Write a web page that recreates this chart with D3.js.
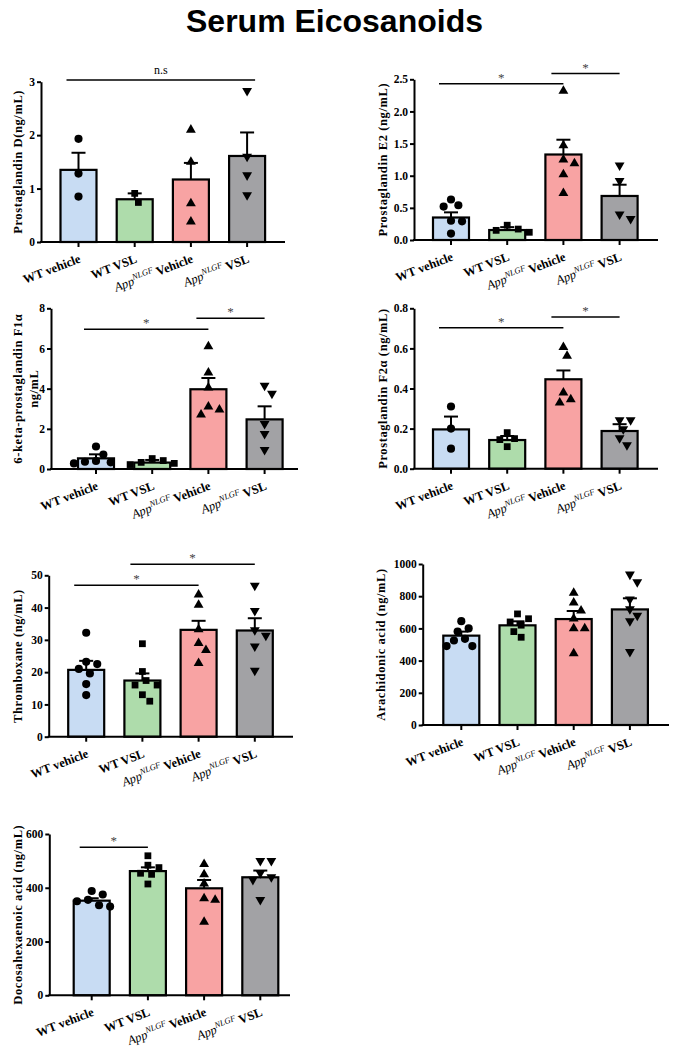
<!DOCTYPE html>
<html>
<head>
<meta charset="utf-8">
<script src="https://cdn.jsdelivr.net/npm/d3@7"></script>
<style>
  body { margin: 0; background: #fff; }
  svg { display: block; }
</style>
</head>
<body>
<svg id="chart" width="677" height="1050"></svg>
<script>
// groupy (osa x)
const groups = ["WT vehicle", "WT VSL", "App^NLGF Vehicle", "App^NLGF VSL"];

// Prostaglandin D
const pgdMean = [1.35, 0.80, 1.17, 1.61];
const pgdSem = [0.32, 0.11, 0.31, 0.44];
const pgdPoints = [[1.93, 1.28, 0.85], [0.91, 0.74], [2.1, 1.5, 0.72, 0.38], [2.83, 1.6, 1.25, 0.88]];
const pgdSig = [[0, 3, "n.s", 3.03]];

// Prostaglandin E2
const pge2Mean = [0.35, 0.155, 1.33, 0.685];
const pge2Sem = [0.08, 0.045, 0.23, 0.175];
const pge2Points = [[0.63, 0.54, 0.52, 0.30, 0.29, 0.10], [0.23, 0.17, 0.15, 0.12], [2.32, 1.47, 1.25, 1.19, 1.02, 0.73], [1.16, 0.92, 0.40, 0.33]];
const pge2Sig = [[0, 2, "*", 2.43], [2, 3, "*", 2.59]];

// 6-keto-prostaglandin F1a
const ketoMean = [0.53, 0.32, 3.97, 2.47];
const ketoSem = [0.20, 0.13, 0.56, 0.65];
const ketoPoints = [[1.12, 0.72, 0.40, 0.36, 0.33, 0.28], [0.52, 0.42, 0.33, 0.28, 0.22], [6.1, 4.8, 4.05, 3.1, 2.95, 2.7], [4.15, 3.75, 2.25, 1.75, 0.95]];
const ketoSig = [[0, 2, "*", 6.96], [2, 3, "*", 7.5]];

// Prostaglandin F2a
const pgf2Mean = [0.196, 0.143, 0.446, 0.188];
const pgf2Sem = [0.064, 0.02, 0.044, 0.034];
const pgf2Points = [[0.31, 0.2, 0.1], [0.18, 0.15, 0.145, 0.11], [0.606, 0.562, 0.379, 0.346, 0.329], [0.243, 0.243, 0.198, 0.153, 0.118]];
const pgf2Sig = [[0, 2, "*", 0.703], [2, 3, "*", 0.757]];

// Thromboxane
const txMean = [20.7, 17.4, 33.1, 32.9];
const txSem = [2.8, 2.2, 2.8, 3.8];
const txPoints = [[32.2, 23.2, 22.5, 21, 19.6, 16.3, 12.9], [28.8, 20.2, 17.4, 16, 16, 13, 11], [44, 40.8, 33.2, 29, 26.8, 22.8], [46.8, 39, 33, 31.3, 28, 20.5]];
const txSig = [[0, 2, "*", 46.9], [1, 3, "*", 53.4]];

// Arachidonic acid
const aaMean = [555, 619, 658, 718];
const aaSem = [25, 25, 50, 69];
const aaPoints = [[645, 600, 580, 535, 525, 490, 490], [690, 660, 640, 620, 580, 545], [820, 760, 710, 660, 600, 600, 445], [935, 888, 780, 720, 680, 645, 455]];
const aaSig = [];

// Docosahexaenoic acid
const dhaMean = [352, 462, 398, 439];
const dhaSem = [9, 14, 31, 25];
const dhaPoints = [[388, 375, 355, 350, 335, 330], [519, 484, 475, 454, 450, 414], [488, 450, 415, 360, 355, 273], [500, 500, 455, 440, 430, 355]];
const dhaSig = [[0, 1, "*", 551]];

const panels = [
    {label: ["Prostaglandin D(ng/mL)"], mean: pgdMean, sem: pgdSem, points: pgdPoints, sig: pgdSig, max: 3, step: 1, fmt: "d"},
    {label: ["Prostaglandin E2 (ng/mL)"], mean: pge2Mean, sem: pge2Sem, points: pge2Points, sig: pge2Sig, max: 2.5, step: 0.5, fmt: ".1f"},
    {label: ["6-keta-prostaglandin F1\u03b1", "ng/mL"], mean: ketoMean, sem: ketoSem, points: ketoPoints, sig: ketoSig, max: 8, step: 2, fmt: "d"},
    {label: ["Prostaglandin F2\u03b1 (ng/mL)"], mean: pgf2Mean, sem: pgf2Sem, points: pgf2Points, sig: pgf2Sig, max: 0.8, step: 0.2, fmt: ".1f"},
    {label: ["Thromboxane (ng/mL)"], mean: txMean, sem: txSem, points: txPoints, sig: txSig, max: 50, step: 10, fmt: "d"},
    {label: ["Arachidonic acid (ng/mL)"], mean: aaMean, sem: aaSem, points: aaPoints, sig: aaSig, max: 1000, step: 200, fmt: "d"},
    {label: ["Docosahexaenoic acid (ng/mL)"], mean: dhaMean, sem: dhaSem, points: dhaPoints, sig: dhaSig, max: 600, step: 200, fmt: "d"}
];

// rozlozeni jednotlivych grafu v obrazku
const layout = [
    {x0: 41, x1: 285, yTop: 81.7, yBot: 242, off: 37.5, labelX: [17]},
    {x0: 414, x1: 658, yTop: 79.3, yBot: 240, off: 37, labelX: [382]},
    {x0: 51, x1: 298, yTop: 308.3, yBot: 469, off: 45, labelX: [17.5, 33.5]},
    {x0: 414, x1: 658, yTop: 308.3, yBot: 468.7, off: 37, labelX: [382]},
    {x0: 48.7, x1: 293, yTop: 575.3, yBot: 736.7, off: 37.5, labelX: [17]},
    {x0: 422.7, x1: 669, yTop: 564, yBot: 725, off: 38.6, labelX: [380]},
    {x0: 49.3, x1: 290, yTop: 834, yBot: 995.3, off: 42.4, labelX: [17]}
];

const fills = ["#c8dcf3", "#aedcab", "#f8a3a3", "#a2a2a5"];
const symbols = [d3.symbolCircle, d3.symbolSquare, d3.symbolTriangle, d3.symbolTriangle];
const symSize = [52, 46, 42, 42];
const serif = "'Liberation Serif', 'Times New Roman', serif";
const barW = 36;
const step = 56.2;

const svg = d3.select("#chart");

svg.append("text")
    .attr("x", 334.5)
    .attr("y", 32)
    .attr("text-anchor", "middle")
    .style("font", "bold 32px 'Liberation Sans', Arial, sans-serif")
    .text("Serum Eicosanoids");

// rozmisteni bodu vedle sebe aby se neprekryvaly
function dodge(vals, y, r) {
    const placed = [];
    const off = new Array(vals.length).fill(0);
    const order = vals.map((v, i) => i).sort((a, b) => vals[b] - vals[a]);
    for (const i of order) {
        const py = y(vals[i]);
        for (let k = 0; k < 20; k++) {
            const dx = k === 0 ? 0 : (k % 2 ? 1 : -1) * Math.ceil(k / 2) * r * 0.8;
            if (placed.every(q => Math.hypot(q.dx - dx, q.py - py) >= 2 * r)) {
                placed.push({dx, py});
                off[i] = dx;
                break;
            }
        }
    }
    return off;
}

function drawPanel(p, L) {
    const g = svg.append("g");
    const y = d3.scaleLinear().domain([0, p.max]).range([L.yBot, L.yTop]);
    const x = d3.scalePoint().domain(groups).range([L.x0 + L.off, L.x0 + L.off + 3 * step]);

    // sloupce
    g.selectAll("rect.bar")
        .data(p.mean)
        .join("rect")
        .attr("class", "bar")
        .attr("x", (d, i) => x(groups[i]) - barW / 2)
        .attr("y", d => y(d))
        .attr("width", barW)
        .attr("height", d => y(0) - y(d))
        .attr("fill", (d, i) => fills[i])
        .attr("stroke", "#000")
        .attr("stroke-width", 2.2);

    // chybove usecky (jen nahoru)
    const err = g.selectAll("g.err")
        .data(p.mean)
        .join("g")
        .attr("class", "err");
    err.append("line")
        .attr("x1", (d, i) => x(groups[i]))
        .attr("x2", (d, i) => x(groups[i]))
        .attr("y1", d => y(d))
        .attr("y2", (d, i) => y(d + p.sem[i]));
    err.append("line")
        .attr("x1", (d, i) => x(groups[i]) - 7)
        .attr("x2", (d, i) => x(groups[i]) + 7)
        .attr("y1", (d, i) => y(d + p.sem[i]))
        .attr("y2", (d, i) => y(d + p.sem[i]));
    err.selectAll("line").attr("stroke", "#000").attr("stroke-width", 2);

    // jednotlive body
    p.points.forEach((vals, gi) => {
        const off = dodge(vals, y, 4.6);
        g.selectAll(null)
            .data(vals)
            .join("path")
            .attr("d", d3.symbol(symbols[gi], symSize[gi]))
            .attr("transform", (d, i) => `translate(${x(groups[gi]) + off[i]},${y(d)})` + (gi === 3 ? " rotate(180)" : ""))
            .attr("fill", "#000");
    });

    // osa y
    const yAxis = d3.axisLeft(y)
        .tickValues(d3.range(0, p.max + p.step / 2, p.step))
        .tickFormat(d3.format(p.fmt))
        .tickSizeInner(4)
        .tickSizeOuter(0)
        .tickPadding(2);
    const ya = g.append("g")
        .attr("transform", `translate(${L.x0},0)`)
        .call(yAxis);
    ya.select(".domain").attr("stroke-width", 2);
    ya.selectAll(".tick line").attr("stroke-width", 2);
    ya.selectAll(".tick text")
        .style("font", `bold 11.5px ${serif}`)
        .attr("fill", "#000");

    // osa x
    g.append("line")
        .attr("x1", L.x0 - 1)
        .attr("x2", L.x1)
        .attr("y1", L.yBot)
        .attr("y2", L.yBot)
        .attr("stroke", "#000")
        .attr("stroke-width", 2);
    g.selectAll("line.xtick")
        .data(groups)
        .join("line")
        .attr("class", "xtick")
        .attr("x1", d => x(d))
        .attr("x2", d => x(d))
        .attr("y1", L.yBot)
        .attr("y2", L.yBot + 5)
        .attr("stroke", "#000")
        .attr("stroke-width", 2);

    // popisky skupin
    groups.forEach(name => {
        const t = g.append("text")
            .attr("transform", `translate(${x(name) + 3},${L.yBot + 20}) rotate(-21)`)
            .attr("text-anchor", "end")
            .style("font", `bold 12.5px ${serif}`);
        if (name.startsWith("App^")) {
            const [sup, rest] = name.slice(4).split(" ");
            t.append("tspan").style("font-style", "italic").style("font-weight", "normal").text("App");
            t.append("tspan").style("font-style", "italic").style("font-weight", "normal")
                .style("font-size", "8.5px").attr("dy", -5).text(sup);
            t.append("tspan").attr("dy", 5).text(" " + rest);
        } else {
            t.text(name);
        }
    });

    // popisek osy y
    const mid = (L.yTop + L.yBot) / 2;
    p.label.forEach((txt, li) => {
        g.append("text")
            .attr("transform", `translate(${L.labelX[li] + 4.5},${mid}) rotate(-90)`)
            .attr("text-anchor", "middle")
            .style("font", `bold 12.5px ${serif}`)
            .style("letter-spacing", "0.6px")
            .text(txt);
    });

    // vyznamnost
    p.sig.forEach(([a, b, lab, val]) => {
        const xa = x(groups[a]) - 12;
        const xb = x(groups[b]) + (lab === "n.s" ? 8 : 0);
        g.append("line")
            .attr("x1", xa).attr("x2", xb)
            .attr("y1", y(val)).attr("y2", y(val))
            .attr("stroke", "#000")
            .attr("stroke-width", 1.5);
        g.append("text")
            .attr("x", (xa + xb) / 2)
            .attr("y", y(val) - (lab === "n.s" ? 6 : 2))
            .attr("text-anchor", "middle")
            .attr("fill", lab === "n.s" ? "#000" : "#444")
            .style("font", `${lab === "n.s" ? 12 : 13}px ${serif}`)
            .text(lab);
    });
}

panels.forEach((p, i) => drawPanel(p, layout[i]));
</script>
</body>
</html>
